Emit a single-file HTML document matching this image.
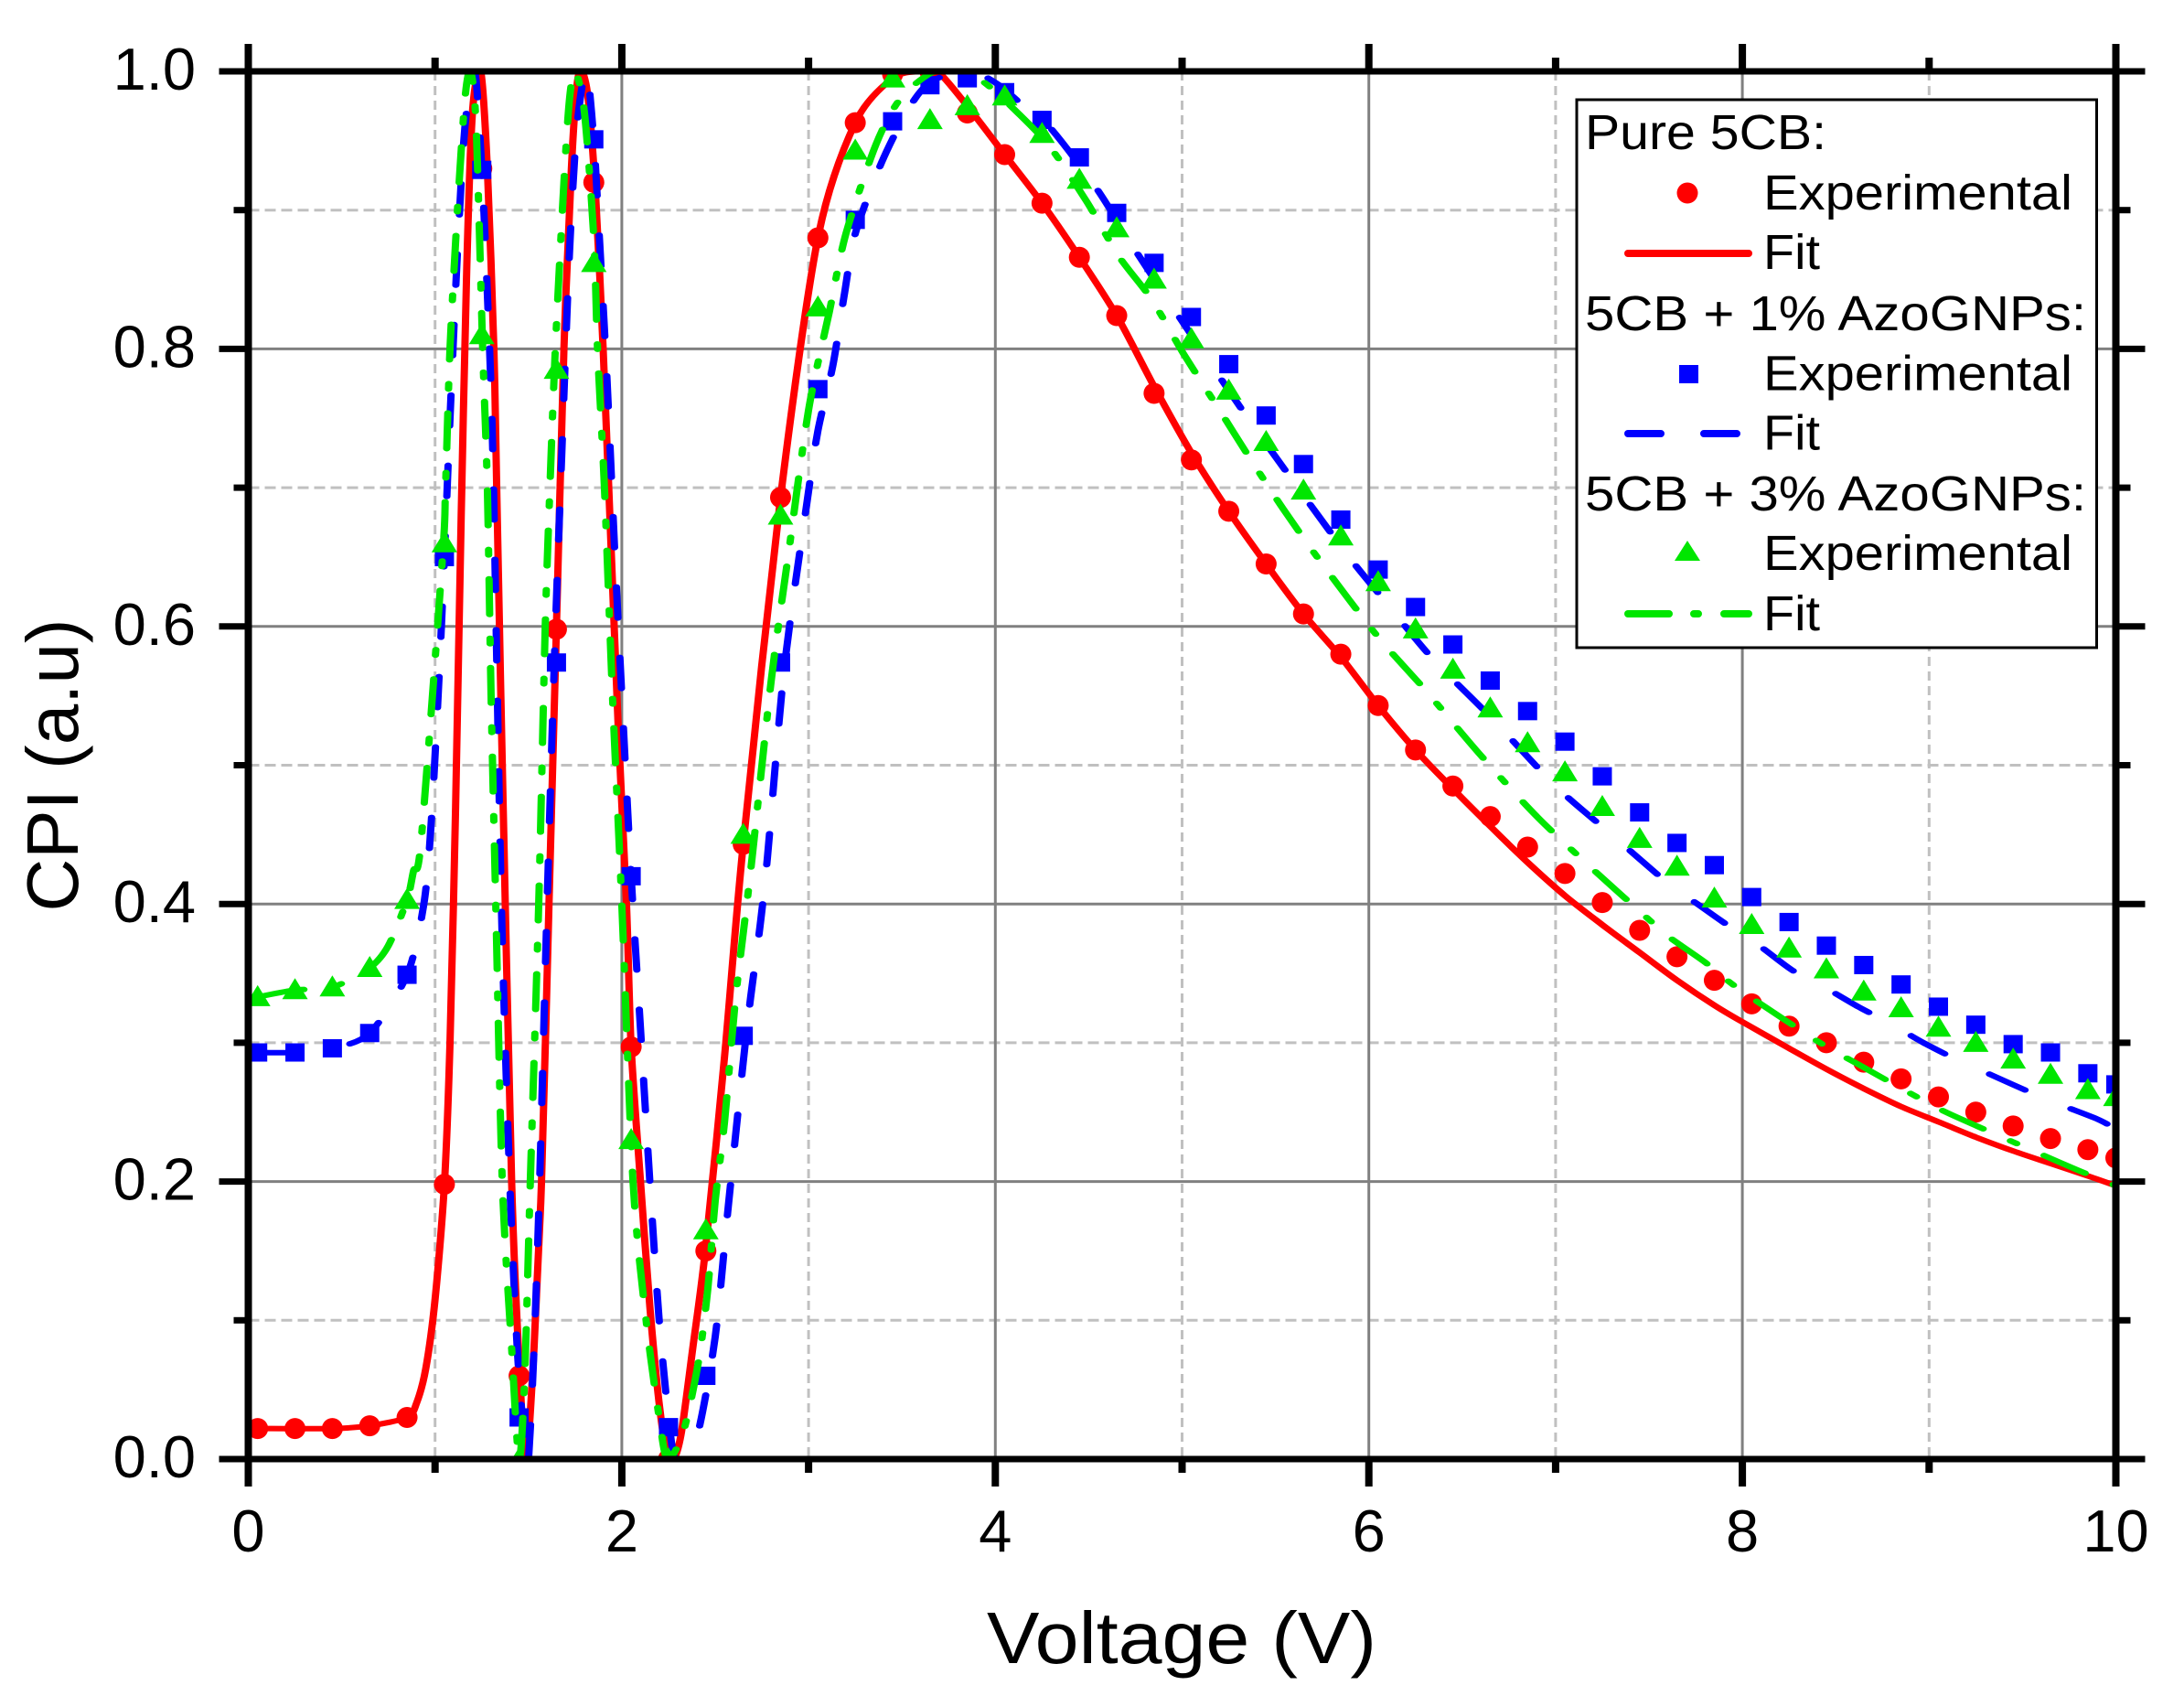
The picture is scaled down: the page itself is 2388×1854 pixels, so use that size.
<!DOCTYPE html>
<html lang="en">
<head>
<meta charset="utf-8">
<title>CPI vs Voltage</title>
<style>
html,body{margin:0;padding:0;background:#fff;width:2388px;height:1854px;overflow:hidden}
svg{display:block}
text{font-family:"Liberation Sans",Arial,sans-serif;fill:#000}
</style>
</head>
<body>
<svg id="chart" xmlns="http://www.w3.org/2000/svg" width="2388" height="1854" viewBox="0 0 2388 1854">
  <defs>
    <clipPath id="plot-clip"><rect x="271.5" y="78" width="2042" height="1517"/></clipPath>
  </defs>
  <rect x="0" y="0" width="2388" height="1854" fill="#fff"/>
  <g id="grid"></g>
  <g id="series" clip-path="url(#plot-clip)"></g>
  <g id="axes"></g>
  <text x="1292" y="1818" font-size="80" text-anchor="middle" textLength="426" lengthAdjust="spacingAndGlyphs">Voltage (V)</text>
  <text transform="translate(85,836.5) rotate(-90)" font-size="80" text-anchor="middle">CPI (a.u)</text>
  <g>
    <rect x="1724" y="109" width="568.5" height="599" fill="#fff" stroke="#000" stroke-width="3"/>
    <text x="1733" y="163" font-size="54" textLength="264" lengthAdjust="spacingAndGlyphs">Pure 5CB:</text>
    <circle cx="1845" cy="211" r="11.5" fill="#ff0000"/>
    <text x="1928" y="229" font-size="54" textLength="338" lengthAdjust="spacingAndGlyphs">Experimental</text>
    <line x1="1780" y1="277" x2="1912" y2="277" stroke="#ff0000" stroke-width="8" stroke-linecap="round"/>
    <text x="1928" y="294" font-size="54" textLength="62" lengthAdjust="spacingAndGlyphs">Fit</text>
    <text x="1733" y="361" font-size="54" textLength="548" lengthAdjust="spacingAndGlyphs">5CB + 1% AzoGNPs:</text>
    <rect x="1836" y="399" width="21" height="20" fill="#0000ff"/>
    <text x="1928" y="426.5" font-size="54" textLength="338" lengthAdjust="spacingAndGlyphs">Experimental</text>
    <line x1="1780" y1="474" x2="1902" y2="474" stroke="#0000ff" stroke-width="8" stroke-linecap="round" stroke-dasharray="36 47"/>
    <text x="1928" y="491.5" font-size="54" textLength="62" lengthAdjust="spacingAndGlyphs">Fit</text>
    <text x="1733" y="558" font-size="54" textLength="548" lengthAdjust="spacingAndGlyphs">5CB + 3% AzoGNPs:</text>
    <polygon points="1845,591 1859,613 1831,613" fill="#00e600"/>
    <text x="1928" y="623" font-size="54" textLength="338" lengthAdjust="spacingAndGlyphs">Experimental</text>
    <line x1="1780" y1="671" x2="1912" y2="671" stroke="#00e600" stroke-width="8" stroke-linecap="round" stroke-dasharray="45 27 5 28"/>
    <text x="1928" y="689" font-size="54" textLength="62" lengthAdjust="spacingAndGlyphs">Fit</text>
  </g>
</svg>
<script>
const xTickValues = [0, 2, 4, 6, 8, 10];
const xTickLabels = ['0', '2', '4', '6', '8', '10'];
const xMinorValues = [1, 3, 5, 7, 9];
const yTickValues = [0, 0.2, 0.4, 0.6, 0.8, 1.0];
const yTickLabels = ['0.0', '0.2', '0.4', '0.6', '0.8', '1.0'];
const yMinorValues = [0.1, 0.3, 0.5, 0.7, 0.9];

const expVoltage = [0.05,0.25,0.45,0.65,0.85,1.05,1.25,1.45,1.65,1.85,2.05,2.25,2.45,2.65,2.85,3.05,3.25,3.45,3.65,3.85,4.05,4.25,4.45,4.65,4.85,5.05,5.25,5.45,5.65,5.85,6.05,6.25,6.45,6.65,6.85,7.05,7.25,7.45,7.65,7.85,8.05,8.25,8.45,8.65,8.85,9.05,9.25,9.45,9.65,9.85,10];
const expPure = [0.022,0.022,0.022,0.024,0.03,0.198,0.93,0.06,0.598,0.92,0.297,0.0,0.15,0.443,0.693,0.88,0.963,0.998,1.0,0.97,0.94,0.905,0.866,0.824,0.768,0.72,0.683,0.645,0.609,0.58,0.543,0.511,0.485,0.463,0.441,0.422,0.401,0.381,0.362,0.345,0.328,0.312,0.3,0.286,0.274,0.261,0.25,0.24,0.231,0.223,0.217];
const expOne = [0.293,0.293,0.296,0.307,0.349,0.65,0.929,0.03,0.574,0.951,0.42,0.023,0.06,0.305,0.574,0.771,0.893,0.964,0.99,0.995,0.985,0.965,0.938,0.898,0.862,0.823,0.789,0.752,0.717,0.677,0.641,0.614,0.587,0.561,0.539,0.517,0.492,0.466,0.444,0.428,0.405,0.387,0.37,0.356,0.342,0.326,0.313,0.299,0.293,0.278,0.27];
const expThree = [0.333,0.338,0.34,0.354,0.403,0.66,0.81,0.0,0.785,0.862,0.23,0.0,0.165,0.45,0.68,0.83,0.943,0.995,0.965,0.975,0.982,0.955,0.922,0.887,0.85,0.807,0.77,0.733,0.698,0.665,0.632,0.598,0.569,0.541,0.516,0.495,0.47,0.447,0.427,0.404,0.385,0.368,0.353,0.337,0.325,0.311,0.3,0.288,0.277,0.266,0.261];

const fitPureV = [0.05,0.45,0.65,0.85,0.9,0.95,1.0,1.05,1.08,1.11,1.14,1.17,1.2,1.244,1.28,1.315,1.33,1.36,1.41,1.45,1.487,1.53,1.57,1.61,1.65,1.69,1.73,1.76,1.786,1.82,1.86,1.9,1.93,1.98,2.025,2.05,2.1,2.15,2.2,2.245,2.28,2.32,2.38,2.447,2.55,2.65,2.85,3.05,3.25,3.45,3.6,3.69,3.85,4.05,4.25,4.45,4.65,4.85,5.05,5.25,5.45,5.65,5.85,6.05,6.25,6.45,6.65,6.85,7.05,7.25,7.45,7.65,7.85,8.0,8.25,8.45,8.65,8.85,9.05,9.25,9.45,9.65,9.85,10];
const fitPureY = [0.022,0.022,0.024,0.03,0.04,0.065,0.115,0.198,0.3,0.47,0.68,0.86,0.97,1.0,0.93,0.8,0.7,0.5,0.2,0.07,0.0,0.08,0.2,0.4,0.6,0.8,0.93,0.99,1.0,0.98,0.91,0.8,0.7,0.53,0.4,0.297,0.2,0.11,0.04,0.0,0.0,0.02,0.08,0.15,0.29,0.443,0.693,0.88,0.963,0.995,1.0,1.0,0.975,0.94,0.905,0.866,0.824,0.773,0.725,0.683,0.645,0.609,0.578,0.543,0.511,0.483,0.456,0.43,0.406,0.385,0.365,0.345,0.327,0.315,0.296,0.281,0.267,0.254,0.243,0.232,0.222,0.213,0.204,0.197];

const fitOneV = [0.05,0.25,0.45,0.65,0.85,0.94,0.98,1.02,1.05,1.08,1.12,1.16,1.212,1.25,1.28,1.31,1.355,1.4,1.44,1.48,1.5,1.53,1.56,1.6,1.64,1.68,1.72,1.76,1.81,1.85,1.88,1.92,1.96,2.0,2.05,2.1,2.15,2.2,2.25,2.285,2.35,2.41,2.5,2.57,2.65,2.69,2.74,2.78,2.87,2.99,3.05,3.13,3.19,3.25,3.39,3.54,3.66,3.86,4.01,4.16,4.29,4.54,4.75,4.96,5.18,5.4,5.86,6.1,6.34,6.65,7.0,7.3,7.61,7.77,7.95,8.1,8.27,8.44,8.62,8.79,8.97,9.16,9.33,9.53,9.71,9.9,10];
const fitOneY = [0.293,0.293,0.296,0.307,0.349,0.4,0.46,0.56,0.65,0.75,0.87,0.96,1.0,0.93,0.84,0.72,0.4,0.2,0.08,0.01,0.0,0.08,0.2,0.4,0.58,0.73,0.87,0.96,1.0,0.95,0.88,0.78,0.66,0.55,0.42,0.31,0.2,0.1,0.03,0.0,0.005,0.02,0.088,0.182,0.286,0.333,0.384,0.434,0.57,0.688,0.741,0.788,0.838,0.883,0.934,0.974,0.993,1.0,0.991,0.974,0.96,0.916,0.871,0.828,0.784,0.741,0.656,0.616,0.577,0.535,0.485,0.45,0.414,0.399,0.382,0.369,0.352,0.34,0.326,0.314,0.3,0.287,0.277,0.265,0.255,0.245,0.238];

const fitThreeV = [0.05,0.25,0.45,0.65,0.75,0.85,0.885,0.925,1.04,1.056,1.08,1.12,1.16,1.19,1.22,1.255,1.28,1.3,1.325,1.36,1.41,1.45,1.48,1.51,1.555,1.59,1.615,1.644,1.69,1.72,1.75,1.8,1.85,1.87,1.907,1.95,2.0,2.06,2.13,2.2,2.245,2.33,2.41,2.46,2.5,2.55,2.61,2.69,2.8,2.89,3.0,3.11,3.2,3.36,3.49,3.66,3.81,3.93,4.09,4.29,4.49,4.66,4.84,5.01,5.2,5.35,5.54,5.74,6.04,6.31,6.6,6.9,7.2,7.49,7.6,7.8,7.9,8.01,8.21,8.44,8.64,8.88,9.09,9.34,9.56,9.8,10];
const fitThreeY = [0.333,0.338,0.34,0.354,0.37,0.403,0.424,0.445,0.65,0.7,0.8,0.9,0.98,1.0,0.96,0.8,0.7,0.55,0.4,0.2,0.08,0.0,0.06,0.2,0.4,0.6,0.7,0.8,0.92,0.98,1.0,0.97,0.88,0.8,0.7,0.55,0.4,0.2,0.1,0.03,0.0,0.02,0.07,0.122,0.186,0.243,0.333,0.424,0.561,0.65,0.756,0.826,0.883,0.947,0.98,0.999,1.0,0.993,0.974,0.946,0.906,0.867,0.835,0.796,0.756,0.724,0.685,0.647,0.594,0.553,0.507,0.463,0.425,0.39,0.377,0.358,0.347,0.336,0.318,0.298,0.283,0.265,0.25,0.235,0.222,0.208,0.197];

const NS = 'http://www.w3.org/2000/svg';
const plotLeft = 271.5, plotRight = 2313.5, plotTop = 78, plotBottom = 1595;
const xMax = 10, yMax = 1;
const strokeStretchX = 1.33;
function xScale(v) { return plotLeft + (v / xMax) * (plotRight - plotLeft); }
function yScale(v) { return plotBottom - (v / yMax) * (plotBottom - plotTop); }

function make(tag, parent) {
  const el = document.createElementNS(NS, tag);
  parent.appendChild(el);
  return el;
}
function setAll(el, attrs) {
  Object.keys(attrs).forEach(function (k) { el.setAttribute(k, attrs[k]); });
  return el;
}

const gridGroup = document.getElementById('grid');
const axesGroup = document.getElementById('axes');
const seriesGroup = document.getElementById('series');

// Grid
xMinorValues.forEach(function (v) {
  const el = make('line', gridGroup);
  
  
  setAll(el, { x1: xScale(v), x2: xScale(v), y1: plotTop, y2: plotBottom, stroke: '#c0c0c0', 'stroke-width': 3, 'stroke-dasharray': '10 6' });
});
yMinorValues.forEach(function (v) {
  const el = make('line', gridGroup);
  
  
  setAll(el, { x1: plotLeft, x2: plotRight, y1: yScale(v), y2: yScale(v), stroke: '#c0c0c0', 'stroke-width': 3, 'stroke-dasharray': '12 6' });
});
xTickValues.forEach(function (v) {
  const el = make('line', gridGroup);
  
  
  setAll(el, { x1: xScale(v), x2: xScale(v), y1: plotTop, y2: plotBottom, stroke: '#808080', 'stroke-width': 3 });
});
yTickValues.forEach(function (v) {
  const el = make('line', gridGroup);
  
  
  setAll(el, { x1: plotLeft, x2: plotRight, y1: yScale(v), y2: yScale(v), stroke: '#808080', 'stroke-width': 3 });
});

function smoothPath(xs, ys) {
  const pts = xs.map(function (x, i) { return [xScale(x) / strokeStretchX, yScale(ys[i])]; });
  let d = 'M' + pts[0][0].toFixed(2) + ' ' + pts[0][1].toFixed(1);
  for (let i = 0; i < pts.length - 1; i++) {
    const p0 = pts[Math.max(i - 1, 0)], p1 = pts[i], p2 = pts[i + 1], p3 = pts[Math.min(i + 2, pts.length - 1)];
    const t = 0.14;
    const c1x = p1[0] + (p2[0] - p0[0]) * t, c1y = p1[1] + (p2[1] - p0[1]) * t;
    const c2x = p2[0] - (p3[0] - p1[0]) * t, c2y = p2[1] - (p3[1] - p1[1]) * t;
    d += 'C' + c1x.toFixed(2) + ' ' + c1y.toFixed(1) + ' ' + c2x.toFixed(2) + ' ' + c2y.toFixed(1) + ' ' + p2[0].toFixed(2) + ' ' + p2[1].toFixed(1);
  }
  return d;
}

function drawCircles(values) {
  const g = make('g', seriesGroup);
  
  
  values.forEach(function (v, i) {
    const el = make('circle', g);
    
    
    setAll(el, { cx: xScale(expVoltage[i]), cy: yScale(v), r: 11.5, fill: '#ff0000' });
  });
}
function drawSquares(values) {
  const g = make('g', seriesGroup);
  
  
  values.forEach(function (v, i) {
    const el = make('rect', g);
    
    
    setAll(el, { x: xScale(expVoltage[i]) - 10.5, y: yScale(v) - 10, width: 21, height: 20, fill: '#0000ff' });
  });
}
function drawTriangles(values) {
  const g = make('g', seriesGroup);
  
  
  values.forEach(function (v, i) {
    const el = make('polygon', g);
    
    
    const cx = xScale(expVoltage[i]), cy = yScale(v);
    el.setAttribute('points', cx + ',' + (cy - 13) + ' ' + (cx + 14) + ',' + (cy + 10) + ' ' + (cx - 14) + ',' + (cy + 10));
    el.setAttribute('fill', '#00e600');
  });
}

const stretchTransform = 'scale(' + strokeStretchX + ',1)';

drawCircles(expPure);
const fitPurePath = make('path', seriesGroup);


setAll(fitPurePath, { d: smoothPath(fitPureV, fitPureY), transform: stretchTransform, fill: 'none', stroke: '#ff0000', 'stroke-width': 6, 'stroke-linejoin': 'round' });

drawSquares(expOne);
const fitOnePath = make('path', seriesGroup);


setAll(fitOnePath, { d: smoothPath(fitOneV, fitOneY), transform: stretchTransform, fill: 'none', stroke: '#0000ff', 'stroke-width': 6, 'stroke-linecap': 'round', 'stroke-linejoin': 'round', 'stroke-dasharray': '34 43' });

drawTriangles(expThree);
const fitThreePath = make('path', seriesGroup);


setAll(fitThreePath, { d: smoothPath(fitThreeV, fitThreeY), transform: stretchTransform, fill: 'none', stroke: '#00e600', 'stroke-width': 6, 'stroke-linecap': 'round', 'stroke-linejoin': 'round', 'stroke-dasharray': '39 26 6 26' });

// Axes frame
const frameLeft = make('line', axesGroup);


setAll(frameLeft, { x1: plotLeft, x2: plotLeft, y1: plotTop - 30, y2: plotBottom + 30, stroke: '#000', 'stroke-width': 8 });
const frameRight = make('line', axesGroup);


setAll(frameRight, { x1: plotRight, x2: plotRight, y1: plotTop - 30, y2: plotBottom + 30, stroke: '#000', 'stroke-width': 8 });
const frameTop = make('line', axesGroup);


setAll(frameTop, { x1: plotLeft - 32, x2: plotRight + 32, y1: plotTop, y2: plotTop, stroke: '#000', 'stroke-width': 7 });
const frameBottom = make('line', axesGroup);


setAll(frameBottom, { x1: plotLeft - 32, x2: plotRight + 32, y1: plotBottom, y2: plotBottom, stroke: '#000', 'stroke-width': 7 });

// Ticks
xTickValues.forEach(function (v, i) {
  const bottom = make('line', axesGroup);
  
  
  setAll(bottom, { x1: xScale(v), x2: xScale(v), y1: plotBottom, y2: plotBottom + 30, stroke: '#000', 'stroke-width': 8 });
  const top = make('line', axesGroup);
  
  
  setAll(top, { x1: xScale(v), x2: xScale(v), y1: plotTop, y2: plotTop - 30, stroke: '#000', 'stroke-width': 8 });
  const label = make('text', axesGroup);
  
  
  setAll(label, { x: xScale(v), y: 1696, 'font-size': 65, 'text-anchor': 'middle' });
  label.textContent = xTickLabels[i];
});
xMinorValues.forEach(function (v) {
  const bottom = make('line', axesGroup);
  
  
  setAll(bottom, { x1: xScale(v), x2: xScale(v), y1: plotBottom, y2: plotBottom + 15, stroke: '#000', 'stroke-width': 8 });
  const top = make('line', axesGroup);
  
  
  setAll(top, { x1: xScale(v), x2: xScale(v), y1: plotTop, y2: plotTop - 15, stroke: '#000', 'stroke-width': 8 });
});
yTickValues.forEach(function (v, i) {
  const left = make('line', axesGroup);
  
  
  setAll(left, { x1: plotLeft - 32, x2: plotLeft, y1: yScale(v), y2: yScale(v), stroke: '#000', 'stroke-width': 7 });
  const right = make('line', axesGroup);
  
  
  setAll(right, { x1: plotRight, x2: plotRight + 32, y1: yScale(v), y2: yScale(v), stroke: '#000', 'stroke-width': 7 });
  const label = make('text', axesGroup);
  
  
  setAll(label, { x: 214, y: yScale(v) + 20, 'font-size': 65, 'text-anchor': 'end' });
  label.textContent = yTickLabels[i];
});
yMinorValues.forEach(function (v) {
  const left = make('line', axesGroup);
  
  
  setAll(left, { x1: plotLeft - 16, x2: plotLeft, y1: yScale(v), y2: yScale(v), stroke: '#000', 'stroke-width': 7 });
  const right = make('line', axesGroup);
  
  
  setAll(right, { x1: plotRight, x2: plotRight + 16, y1: yScale(v), y2: yScale(v), stroke: '#000', 'stroke-width': 7 });
});
</script>
</body>
</html>
